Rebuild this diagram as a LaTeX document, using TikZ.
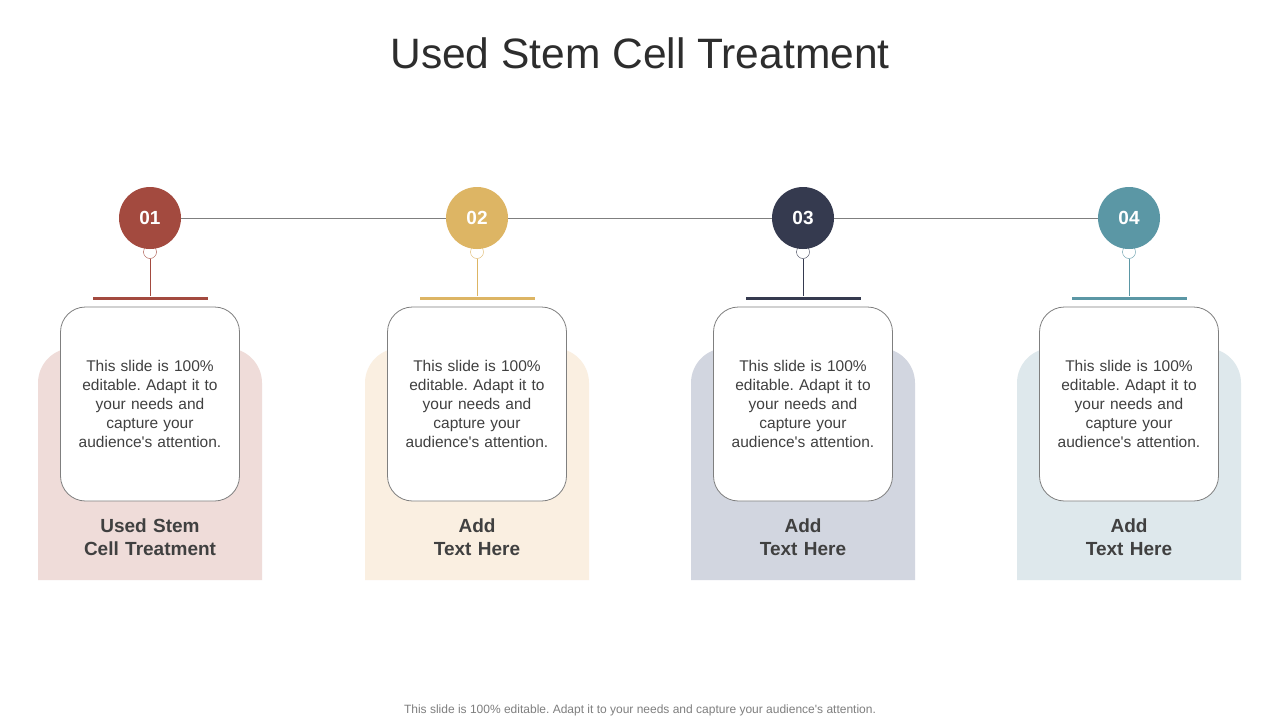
\documentclass[tikz,border=0pt]{standalone}
\usepackage{fontspec}
\setmainfont{Liberation Sans}
\usepackage{tikz}
\usetikzlibrary{positioning}
\frenchspacing

\definecolor{redc}{HTML}{A34A3F}
\definecolor{goldc}{HTML}{DDB564}
\definecolor{navyc}{HTML}{353A4F}
\definecolor{tealc}{HTML}{5B97A5}
\definecolor{redbg}{HTML}{EFDCD9}
\definecolor{goldbg}{HTML}{FAEFE1}
\definecolor{navybg}{HTML}{D2D6E0}
\definecolor{tealbg}{HTML}{DEE8EC}
\definecolor{txt}{HTML}{404040}
\definecolor{lineg}{HTML}{7F7F7F}

\tikzset{
  numdot/.style={circle, minimum size=62pt, inner sep=0pt, text=white,
    font=\fontsize{19}{19}\selectfont\bfseries},
  ringdot/.style={circle, minimum size=13pt, inner sep=0pt, fill=white, draw=#1},
  barline/.style={rectangle, minimum width=115pt, minimum height=3pt, inner sep=0pt, fill=#1},
  cardbox/.style={rectangle, rounded corners=25pt, draw=lineg, fill=white,
    minimum width=179pt, minimum height=194pt, inner sep=0pt, line width=0.8pt},
  bodytext/.style={text width=170pt, align=center, text=txt,
    font=\fontsize{15.5}{19}\selectfont},
  headtext/.style={text width=200pt, align=center, text=txt,
    font=\fontsize{19}{23}\selectfont\bfseries}
}

\begin{document}
\begin{tikzpicture}[x=1pt,y=-1pt]
\useasboundingbox[fill=white] (0,0) rectangle (1280,720);

\node[font=\fontsize{42.5}{42.5}\selectfont, text=txt!70!black] (title) at (640,53) {Used Stem Cell Treatment};

\foreach \i/\x/\c/\lab in {1/150/red/{Used Stem\\Cell Treatment},
                           2/477/gold/{Add\\Text Here},
                           3/803/navy/{Add\\Text Here},
                           4/1129/teal/{Add\\Text Here}}{
  % background panel, rounded at the top only
  \fill[\c bg] (\x-112,580) -- (\x-112,420) [rounded corners=35pt] |- (\x,348) -| (\x+112,420)
    [sharp corners] -- (\x+112,580) -- cycle;
  \node[ringdot=\c c] (ring\i) at (\x,252) {};
  \node[numdot, fill=\c c] (num\i) at (\x,218) {0\i};
  \node[barline=\c c] (bar\i) at (\x,298) {};
  \draw[\c c, line width=0.8pt] (ring\i) -- (bar\i);
  \node[cardbox] (card\i) at (\x,404) {};
  \node[bodytext] (body\i) at (card\i) {This slide is 100\%\\ editable. Adapt it to\\ your needs and\\ capture your\\ audience\textquotesingle s attention.};
  \node[headtext] (head\i) at (\x,537) {\lab};
}

\draw[lineg, line width=0.8pt] (num1) -- (num2) (num2) -- (num3) (num3) -- (num4);

\node[font=\fontsize{12}{12}\selectfont, text=lineg] (foot) at (640,710) {This slide is 100\% editable. Adapt it to your needs and capture your audience\textquotesingle s attention.};
\end{tikzpicture}
\end{document}
